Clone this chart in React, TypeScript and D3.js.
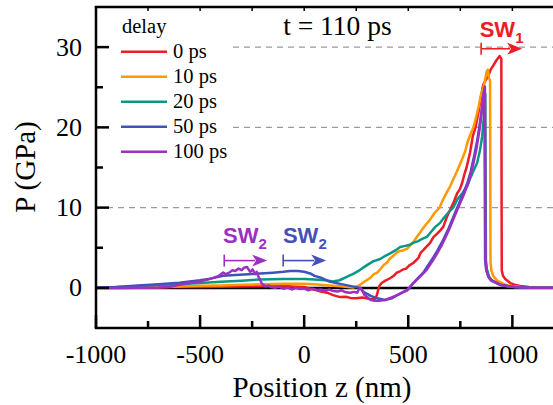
import React from 'react';
import * as d3 from 'd3';

const W = 553;
const H = 405;
const PL = 96, PR = 554, PT = 7, PB = 328;

const xDomain = [-1000, 1200];
const yDomain = [-5, 35];
const xMajor = [-1000, -500, 0, 500, 1000];
const xMinor = [-750, -250, 250, 750];
const xTop = [-750, -500, -250, 0, 250, 500, 750, 1000];
const yMajor = [0, 10, 20, 30];
const yMinor = [5, 15, 25];

const delays = ['0 ps', '10 ps', '20 ps', '50 ps', '100 ps'];
const colors = ['#ee1c24', '#ff9900', '#0a9884', '#4351b8', '#9b30c2'];

const red: [number, number][] = [[-1000,0],[-900,0.03],[-800,0.05],[-700,0.08],[-600,0.1],[-500,0.12],[-400,0.15],[-300,0.18],[-200,0.2],[-100,0.22],[-40,0.15],[0,0.1],[30,-0.1],[60,-0.3],[80,-0.45],[110,-0.6],[139,-0.9],[173,-1.15],[200,-1.1],[221,-1.25],[250,-1.3],[280,-1.2],[317,-1.4],[340,-1.35],[348,-1.0],[355,-0.3],[362,0.3],[372,0.6],[390,0.9],[413,1.2],[430,1.5],[445,1.9],[462,2.1],[476,2.3],[490,2.4],[505,2.8],[524,3.1],[548,3.7],[560,4.4],[572,4.7],[590,5.2],[605,5.6],[620,6.3],[640,6.8],[655,7.2],[668,7.6],[685,8.8],[695,9.4],[706,10],[720,10.8],[735,11.8],[748,12.3],[759,13.1],[770,14.2],[780,15.0],[797,16.9],[810,18.9],[824,20.1],[838,22.0],[848,23.6],[860,25.3],[872,25.9],[884,26.4],[896,27.2],[908,27.7],[922,28.3],[939,28.9],[947,28.5],[949,2.2],[955,1.5],[966,1.1],[990,0.6],[1010,0.4],[1038,0.25],[1080,0.1],[1110,0.05],[1200,0]];

const orange: [number, number][] = [[-1000,0],[-900,0.05],[-800,0.08],[-700,0.12],[-600,0.18],[-500,0.25],[-400,0.3],[-300,0.38],[-200,0.45],[-100,0.5],[0,0.5],[50,0.45],[77,0.4],[120,0.3],[173,0.2],[210,0.1],[235,0.05],[255,0.2],[269,0.4],[285,0.7],[303,1.0],[320,1.3],[335,1.7],[351,1.9],[365,2.3],[380,2.8],[399,3.2],[410,3.6],[428,4.0],[445,4.4],[461,4.6],[478,4.7],[495,4.9],[510,5.3],[524,5.7],[540,6.3],[557,6.9],[570,7.4],[585,7.9],[605,8.5],[625,9.3],[650,10.0],[665,10.9],[687,12.0],[700,12.6],[712,13.3],[725,14.0],[740,14.9],[755,15.8],[773,17.0],[785,18.2],[800,19.2],[813,20.0],[825,21.2],[838,22.6],[850,24.2],[860,24.8],[868,25.8],[876,26.9],[882,27.2],[887,26.2],[893,25.8],[895,3.2],[899,2.2],[908,1.5],[927,0.9],[966,0.4],[1000,0.2],[1038,0.1],[1100,0.03],[1200,0]];

const teal: [number, number][] = [[-1000,0],[-900,0.1],[-800,0.2],[-700,0.35],[-600,0.45],[-500,0.6],[-400,0.75],[-300,0.9],[-211,1.05],[-100,1.1],[0,1.1],[50,1.05],[100,0.95],[139,0.8],[170,0.95],[207,1.4],[240,1.8],[269,2.25],[300,2.8],[331,3.3],[365,3.6],[390,4.0],[413,4.3],[440,4.7],[461,5.1],[480,5.2],[500,5.3],[524,5.6],[545,5.8],[560,6.0],[575,6.2],[591,6.4],[610,7.0],[630,7.6],[653,8.1],[670,8.7],[690,9.3],[716,10],[735,11.0],[760,11.8],[783,12.7],[800,13.8],[815,14.7],[831,15.6],[845,17.2],[855,18.9],[862,21.0],[867,23.0],[870,24.2],[873,3.5],[878,2.3],[888,1.4],[903,0.9],[941,0.4],[980,0.2],[1013,0.1],[1080,0.03],[1200,0]];

const blue: [number, number][] = [[-1000,0],[-900,0.1],[-800,0.3],[-700,0.45],[-600,0.65],[-500,0.95],[-450,1.15],[-389,1.5],[-330,1.6],[-270,1.7],[-211,1.8],[-150,1.9],[-100,2.0],[-67,2.1],[-30,2.1],[0,2.0],[29,1.8],[50,1.5],[77,1.3],[120,0.8],[173,0.5],[220,0.25],[269,0.0],[285,-0.5],[320,-1.0],[351,-1.3],[389,-1.5],[420,-1.3],[447,-0.9],[470,-0.6],[495,-0.3],[510,0.1],[524,0.6],[550,1.3],[572,1.9],[590,2.6],[605,3.2],[620,3.8],[639,4.6],[660,5.6],[677,6.5],[695,7.5],[711,8.5],[735,10],[760,11.5],[783,13],[800,14.5],[817,16.5],[830,18.2],[841,20],[852,22],[860,23.5],[866,24.6],[869,3.5],[874,2.3],[884,1.4],[898,0.9],[940,0.4],[980,0.2],[1010,0.1],[1080,0.03],[1200,0]];

const purple: [number, number][] = [[-1000,0],[-900,0.0],[-800,0.02],[-700,0.05],[-650,0.1],[-600,0.4],[-550,0.6],[-500,0.8],[-470,1.0],[-437,1.25],[-410,1.5],[-389,1.9],[-375,1.7],[-360,1.9],[-345,2.2],[-331,2.1],[-315,2.4],[-300,2.2],[-290,2.5],[-274,2.6],[-265,2.2],[-259,2.0],[-248,2.3],[-235,1.7],[-228,2.0],[-220,1.4],[-211,1.0],[-205,0.6],[-197,0.4],[-185,0.2],[-170,0.3],[-160,0.1],[-140,0.0],[-120,0.15],[-100,-0.1],[-80,0.05],[-60,-0.2],[-40,0.0],[-20,-0.15],[0,-0.1],[20,-0.3],[40,-0.1],[60,-0.25],[80,-0.2],[100,-0.35],[120,-0.2],[140,-0.4],[160,-0.45],[180,-0.3],[200,-0.55],[220,-0.6],[240,-0.5],[255,-0.6],[262,-0.2],[270,0.0],[278,-0.3],[290,-0.9],[305,-1.2],[320,-1.5],[340,-1.6],[360,-1.6],[389,-1.5],[420,-1.2],[447,-0.9],[470,-0.6],[495,-0.25],[510,0.2],[524,0.6],[548,1.2],[572,1.8],[590,2.3],[605,2.9],[620,3.5],[639,4.3],[660,5.3],[677,6.2],[695,7.2],[711,8.2],[740,10],[765,11.5],[790,13.2],[810,15.2],[825,17.0],[836,18.7],[845,20.2],[852,21.8],[858,23.5],[864,24.6],[868,25.1],[871,3.5],[875,2.2],[880,1.8],[890,1.2],[898,1.0],[940,0.4],[980,0.2],[1010,0.1],[1080,0.03],[1200,0]];

const seriesData = [red, orange, teal, blue, purple];

// annotations (data coordinates)
const sw1Arrow = { z0: 850, z1: 1047, p: 29.8 };
const sw1Label = { z: 843, p: 31.3 };
const sw2PurpleArrow = { z0: -384, z1: -178, p: 3.4 };
const sw2PurpleLabel = { z: -390, p: 5.6 };
const sw2BlueArrow = { z0: -101, z1: 106, p: 3.4 };
const sw2BlueLabel = { z: -102, p: 5.6 };
const titleText = 't = 110 ps';
const titlePos = { z: -101, p: 31.5 };

const serif = '"Liberation Serif", "Times New Roman", serif';
const sans = '"Liberation Sans", Arial, sans-serif';

function Arrow({ x0, x1, y, color }: { x0: number; x1: number; y: number; color: string }) {
  const headLen = 15;
  return (
    <g>
      <line x1={x0} x2={x0} y1={y - 6} y2={y + 6} stroke={color} strokeWidth={1.6} />
      <line x1={x0} x2={x1 - headLen + 3} y1={y} y2={y} stroke={color} strokeWidth={1.6} />
      <path
        d={`M${x1},${y} L${x1 - headLen},${y - 6} L${x1 - headLen + 4},${y} L${x1 - headLen},${y + 6} Z`}
        fill={color}
      />
    </g>
  );
}

function SWLabel({ x, y, sub, color }: { x: number; y: number; sub: string; color: string }) {
  return (
    <text x={x} y={y} fill={color} fontFamily={sans} fontWeight="bold" fontSize={22}>
      SW
      <tspan fontSize={15} dy={6}>{sub}</tspan>
    </text>
  );
}

export default function App() {
  const x = d3.scaleLinear().domain(xDomain).range([PL, PR]);
  const y = d3.scaleLinear().domain(yDomain).range([PB, PT]);
  const line = d3
    .line<[number, number]>()
    .x((d) => x(d[0]))
    .y((d) => y(d[1]));

  return (
    <svg
      width={W}
      height={H}
      style={{ position: 'absolute', left: 0, top: 0, background: '#fff' }}
    >
      <defs>
        <clipPath id="plotclip">
          <rect x={PL} y={PT} width={W - PL} height={PB - PT} />
        </clipPath>
      </defs>
      <rect x={0} y={0} width={W} height={H} fill="#fff" />

      {/* dashed gridlines */}
      <line x1={107} x2={W} y1={y(10)} y2={y(10)} stroke="#9a9a9a" strokeWidth={1.3} strokeDasharray="6,5" />
      <line x1={233} x2={W} y1={y(20)} y2={y(20)} stroke="#9a9a9a" strokeWidth={1.3} strokeDasharray="6,5" />
      <line x1={233} x2={W} y1={y(30)} y2={y(30)} stroke="#9a9a9a" strokeWidth={1.3} strokeDasharray="6,5" />

      {/* zero line */}
      <line x1={PL} x2={W} y1={y(0)} y2={y(0)} stroke="#000" strokeWidth={2.5} />

      {/* curves */}
      <g clipPath="url(#plotclip)">
        {seriesData.map((s, i) => (
          <path
            key={i}
            d={line(s) || ''}
            fill="none"
            stroke={colors[i]}
            strokeWidth={2.5}
            strokeLinejoin="round"
          />
        ))}
      </g>

      {/* axes frame */}
      <line x1={PL} x2={PL} y1={PT} y2={PB} stroke="#000" strokeWidth={2.5} />
      <line x1={PL - 1.25} x2={W} y1={PT} y2={PT} stroke="#000" strokeWidth={2.5} />
      <line x1={PL - 1.25} x2={W} y1={PB} y2={PB} stroke="#000" strokeWidth={2.5} />

      {/* x ticks bottom */}
      {xMajor.map((t) => (
        <line key={'xm' + t} x1={x(t)} x2={x(t)} y1={PB} y2={PB - 13} stroke="#000" strokeWidth={2.5} />
      ))}
      {xMinor.map((t) => (
        <line key={'xn' + t} x1={x(t)} x2={x(t)} y1={PB} y2={PB - 7} stroke="#000" strokeWidth={2.5} />
      ))}
      {xTop.map((t) => (
        <line key={'xt' + t} x1={x(t)} x2={x(t)} y1={PT} y2={PT + 4} stroke="#000" strokeWidth={1.5} />
      ))}
      {xMajor.map((t) => (
        <text key={'xl' + t} x={x(t)} y={363} textAnchor="middle" fontFamily={serif} fontSize={26} fill="#000">
          {t}
        </text>
      ))}

      {/* y ticks */}
      {yMajor.map((t) => (
        <line key={'ym' + t} x1={PL} x2={PL + 13} y1={y(t)} y2={y(t)} stroke="#000" strokeWidth={2.5} />
      ))}
      {yMinor.map((t) => (
        <line key={'yn' + t} x1={PL} x2={PL + 7} y1={y(t)} y2={y(t)} stroke="#000" strokeWidth={2.5} />
      ))}
      {yMajor.map((t) => (
        <text key={'yl' + t} x={82} y={y(t) + 8.5} textAnchor="end" fontFamily={serif} fontSize={26} fill="#000">
          {t}
        </text>
      ))}

      {/* axis titles */}
      <text x={322} y={397} textAnchor="middle" fontFamily={serif} fontSize={29} fill="#000">
        Position z (nm)
      </text>
      <text
        transform={`translate(35,167) rotate(-90)`}
        textAnchor="middle"
        fontFamily={serif}
        fontSize={29}
        fill="#000"
      >
        P (GPa)
      </text>

      {/* legend */}
      <text x={122} y={33} fontFamily={serif} fontSize={20.5} fill="#000">delay</text>
      {delays.map((d, i) => (
        <g key={d}>
          <line x1={121} x2={167} y1={51.7 + i * 25} y2={51.7 + i * 25} stroke={colors[i]} strokeWidth={2.5} />
          <text x={173} y={51.7 + i * 25 + 6.5} fontFamily={serif} fontSize={20.5} fill="#000">
            {d}
          </text>
        </g>
      ))}

      {/* title */}
      <text x={x(titlePos.z)} y={y(titlePos.p)} fontFamily={serif} fontSize={27.5} fill="#000">
        {titleText}
      </text>

      {/* annotations */}
      <SWLabel x={x(sw1Label.z)} y={y(sw1Label.p)} sub="1" color={colors[0]} />
      <Arrow x0={x(sw1Arrow.z0)} x1={x(sw1Arrow.z1)} y={y(sw1Arrow.p)} color={colors[0]} />
      <SWLabel x={x(sw2PurpleLabel.z)} y={y(sw2PurpleLabel.p)} sub="2" color={colors[4]} />
      <Arrow x0={x(sw2PurpleArrow.z0)} x1={x(sw2PurpleArrow.z1)} y={y(sw2PurpleArrow.p)} color={colors[4]} />
      <SWLabel x={x(sw2BlueLabel.z)} y={y(sw2BlueLabel.p)} sub="2" color={colors[3]} />
      <Arrow x0={x(sw2BlueArrow.z0)} x1={x(sw2BlueArrow.z1)} y={y(sw2BlueArrow.p)} color={colors[3]} />
    </svg>
  );
}
